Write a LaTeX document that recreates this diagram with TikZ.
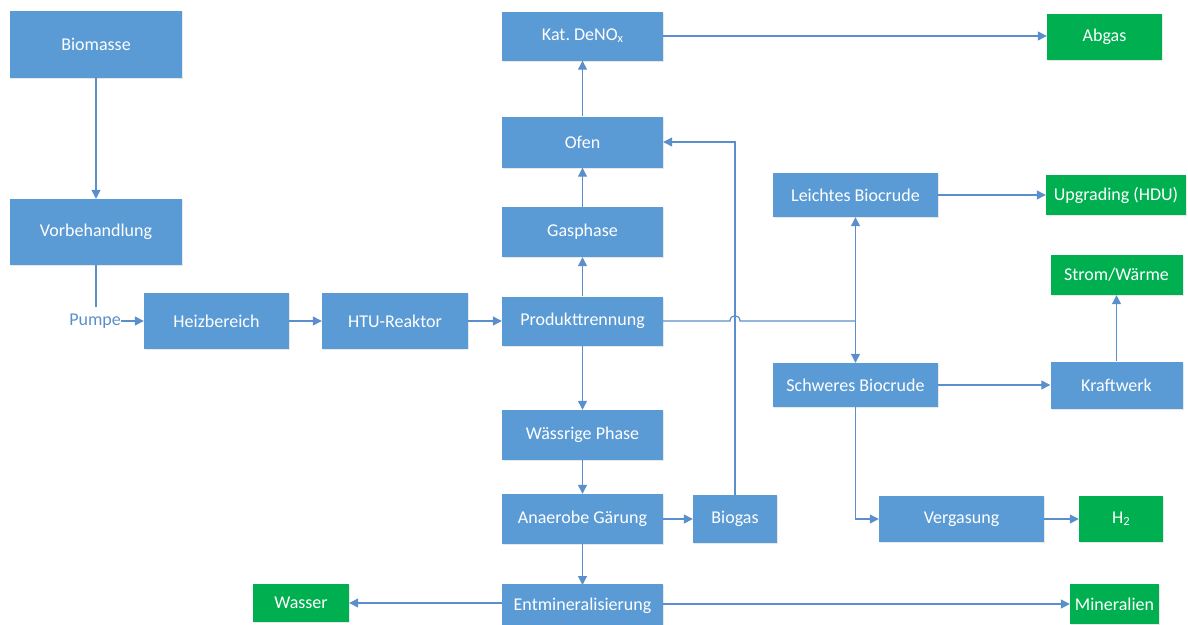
\documentclass[tikz,border=0pt]{standalone}
\usepackage{fontspec}
\setmainfont{Carlito}
\usetikzlibrary{arrows.meta,shadows}
\frenchspacing
\definecolor{procblue}{HTML}{5B9BD5}
\definecolor{prodgreen}{HTML}{00B050}
\definecolor{flowblue}{HTML}{5B8FCB}
\tikzset{
  box/.style={fill=procblue, draw=none, text=white, font=\fontsize{18}{21}\selectfont,
    inner sep=0pt, align=center,
    drop shadow={opacity=0.18, shadow xshift=1.2pt, shadow yshift=-1.2pt}},
  outbox/.style={box, fill=prodgreen},
  flow/.style={draw=flowblue, line width=1.2pt, -{Triangle[length=9pt,width=9pt]}},
  plain/.style={draw=flowblue, line width=1.2pt}
}
\newcommand{\lowsub}[1]{\raisebox{-0.2ex}{\fontsize{12.5}{14}\selectfont #1}}
\begin{document}
\begin{tikzpicture}[x=1pt,y=-1pt]
\useasboundingbox (0,0) rectangle (1188,624);

% feed line
\node[box, minimum width=172pt, minimum height=67pt] (bio) at (96,44.5) {Biomasse};
\node[box, minimum width=172pt, minimum height=66pt] (vor) at (96,232) {Vorbehandlung};
\node[text=flowblue, font=\fontsize{18}{21}\selectfont, inner sep=0pt, anchor=east] (pumpe) at (121,321) {Pumpe};
\coordinate (pumpetop) at (96,307);
\node[box, minimum width=145pt, minimum height=56pt] (heiz) at (216.5,321) {Heizbereich};
\node[box, minimum width=146pt, minimum height=56pt] (htu) at (395,321) {HTU-Reaktor};

% central column
\node[box, minimum width=161pt, minimum height=49pt] (prod) at (582.5,321) {Produkttrennung};
\node[box, minimum width=161pt, minimum height=50pt] (gas) at (582.5,232) {Gasphase};
\node[box, minimum width=161pt, minimum height=51pt] (ofen) at (582.5,142) {Ofen};
\node[box, minimum width=161pt, minimum height=49pt] (deno) at (582.5,36) {Kat. DeNO\lowsub{x}};
\node[box, minimum width=161pt, minimum height=50pt] (wass) at (582.5,435) {Wässrige Phase};
\node[box, minimum width=161pt, minimum height=50pt] (anae) at (582.5,519) {Anaerobe Gärung};
\node[box, minimum width=161pt, minimum height=44pt] (entm) at (582.5,606) {\raisebox{1.5pt}{Entmineralisierung}};
\node[box, minimum width=84pt, minimum height=48pt] (biogas) at (735,519) {Biogas};

% biocrude branch
\node[box, minimum width=165pt, minimum height=44pt] (leicht) at (855.5,195) {Leichtes Biocrude};
\node[box, minimum width=165pt, minimum height=44pt] (schwer) at (855.5,385) {Schweres Biocrude};
\node[box, minimum width=132pt, minimum height=47pt] (kraft) at (1116.5,385) {Kraftwerk};
\node[box, minimum width=165pt, minimum height=46pt] (verg) at (961.5,519) {Vergasung};
\coordinate (split) at (855.5,321);

% products
\node[outbox, minimum width=115pt, minimum height=46pt] (abgas) at (1104.5,36.5) {Abgas};
\node[outbox, minimum width=140pt, minimum height=40pt] (upg) at (1116,195) {Upgrading (HDU)};
\node[outbox, minimum width=132pt, minimum height=40pt] (strom) at (1116.5,275) {Strom/Wärme};
\node[outbox, minimum width=84pt, minimum height=46pt] (h2) at (1121,519) {H\lowsub{2}};
\node[outbox, minimum width=96pt, minimum height=38pt] (wasser) at (301,603) {Wasser};
\node[outbox, minimum width=89pt, minimum height=40pt] (miner) at (1114.5,604) {Mineralien};

% connectors
\draw[flow] (bio) -- (vor);
\draw[plain] (vor.south) -- (pumpetop);
\draw[flow] (pumpe.east) -- (heiz.west);
\draw[flow] (heiz) -- (htu);
\draw[flow] (htu) -- (prod);
\draw[flow] (prod) -- (gas);
\draw[flow] (gas) -- (ofen);
\draw[flow] (ofen) -- (deno);
\draw[flow] (deno.east) -- (abgas.west |- deno.east);
\draw[flow] (prod) -- (wass);
\draw[flow] (wass) -- (anae);
\draw[flow] (anae) -- (entm.north |- 0,585);
\draw[flow] (anae) -- (biogas);
\draw[flow] (biogas.north) |- (ofen.east);
\draw[flow] (entm.west |- wasser) -- (wasser);
\draw[flow] (entm.east |- miner) -- (miner);
% line hops over the biogas return
\draw[plain] (prod.east) -- (730,321) .. controls (730,314) and (740,314) .. (740,321) -- (split);
\draw[flow] (split) -- (leicht);
\draw[flow] (split) -- (schwer);
\draw[flow] (leicht) -- (upg);
\draw[flow] (schwer) -- (kraft);
\draw[flow] (kraft) -- (strom);
\draw[flow] (schwer.south) |- (verg.west);
\draw[flow] (verg) -- (h2);
\end{tikzpicture}
\end{document}
